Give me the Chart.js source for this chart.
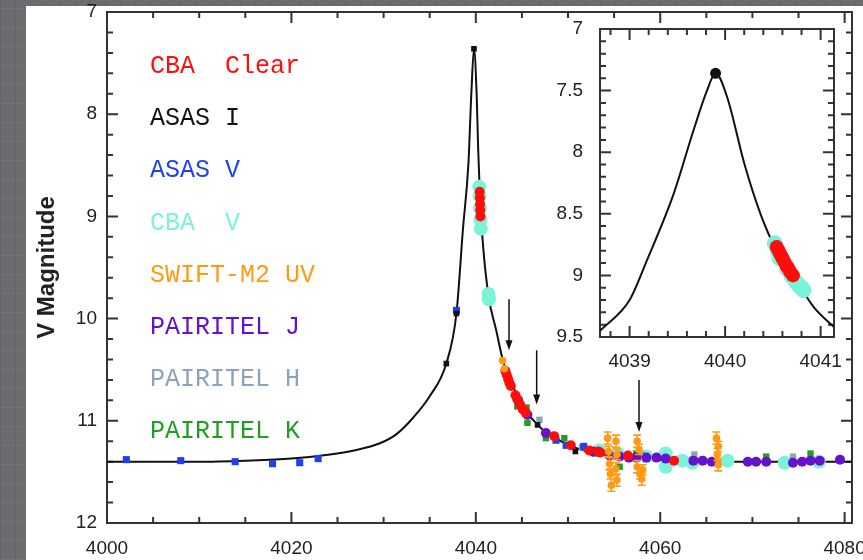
<!DOCTYPE html>
<html>
<head>
<meta charset="utf-8">
<script src="https://cdn.jsdelivr.net/npm/chart.js@4/dist/chart.umd.min.js"></script>
<style>
  html, body { margin: 0; padding: 0; }
  body {
    width: 863px; height: 560px; position: relative; overflow: hidden;
    background-color: #6a6c70;
    background-image:
      repeating-linear-gradient(0deg, rgba(255,255,255,0.06) 0 1px, transparent 1px 19px),
      repeating-linear-gradient(90deg, rgba(0,0,0,0.07) 0 1px, transparent 1px 15px);
  }
  #sheet { position: absolute; left: 26px; top: 6px; right: 0; bottom: 0; background: #fff; }
  #main { position: absolute; left: 0; top: 0; }
  #inset { position: absolute; left: 540px; top: 20px; }
</style>
</head>
<body>
<div id="sheet"></div>
<canvas id="main" width="863" height="560"></canvas>
<canvas id="inset" width="323" height="362"></canvas>
<script>
// ---- light curve data (day, V mag) ----
const curveDays = [4000, 4005, 4010, 4015, 4020, 4024.2, 4026.8, 4029.6, 4031.4, 4033.2, 4035.0, 4036.8, 4037.9, 4038.6, 4039.2, 4039.5, 4039.8, 4040.1, 4040.25, 4040.5, 4040.8, 4041.4, 4042.2, 4043.0, 4043.7, 4044.6, 4045.5, 4046.7, 4048.0, 4049.5, 4051.0, 4053.0, 4055.0, 4058.0, 4062.0, 4070.0, 4080.8];
const curveMag  = [11.40, 11.40, 11.40, 11.39, 11.37, 11.33, 11.29, 11.22, 11.13, 10.97, 10.76, 10.44, 9.95, 9.13, 8.48, 7.83, 7.36, 7.83, 8.32, 8.87, 9.30, 9.79, 10.11, 10.43, 10.58, 10.78, 10.91, 11.04, 11.14, 11.21, 11.27, 11.32, 11.35, 11.37, 11.39, 11.40, 11.40];

const asasIDays = [4036.8, 4037.9, 4039.8, 4046.7, 4050.8];
const asasIMag  = [10.44, 9.95, 7.36, 11.04, 11.30];

const asasVDays = [4002.1, 4008.0, 4013.9, 4017.95, 4020.9, 4022.9, 4037.9, 4048.7, 4049.8, 4051.7];
const asasVMag  = [11.38, 11.39, 11.40, 11.42, 11.41, 11.37, 9.92, 11.19, 11.24, 11.25];

const cbaClearDays = [4040.42, 4040.44, 4040.46, 4040.48, 4040.5, 4043.2, 4043.35, 4043.5, 4043.65, 4043.8, 4044.3, 4044.5, 4044.8, 4045.1, 4045.4, 4048.5, 4050.3, 4052.3, 4053.3, 4053.5, 4056.5, 4061.5];
const cbaClearMag  = [8.76, 8.82, 8.88, 8.94, 9.00, 10.51, 10.55, 10.59, 10.63, 10.66, 10.75, 10.79, 10.84, 10.89, 10.92, 11.15, 11.24, 11.29, 11.30, 11.31, 11.34, 11.39];

const cbaVDays = [4040.38, 4040.42, 4040.46, 4040.5, 4040.54, 4041.38, 4041.42, 4053.4, 4055.4, 4058.5, 4060.6, 4060.6, 4062.4, 4063.5, 4067.3, 4073.5, 4077.2];
const cbaVMag  = [8.71, 8.80, 8.92, 9.03, 9.12, 9.76, 9.81, 11.29, 11.32, 11.35, 11.32, 11.45, 11.39, 11.41, 11.39, 11.41, 11.40];

const swiftDays = [4042.9, 4043.1, 4054.3, 4054.4, 4054.5, 4054.6, 4054.7, 4055.2, 4055.3, 4055.2, 4055.3, 4057.5, 4057.7, 4057.5, 4057.8, 4058.0, 4058.1, 4066.1, 4066.3, 4066.2, 4066.3];
const swiftMag  = [10.41, 10.49, 11.17, 11.30, 11.42, 11.52, 11.63, 11.20, 11.33, 11.47, 11.58, 11.20, 11.28, 11.45, 11.52, 11.57, 11.48, 11.17, 11.25, 11.33, 11.43];
const swiftErr  = [0, 0, 0.06, 0.05, 0.06, 0.05, 0.06, 0.06, 0.05, 0.06, 0.06, 0.06, 0.05, 0.06, 0.05, 0.06, 0.05, 0.06, 0.05, 0.06, 0.06];

const pairJDays = [4044.6, 4045.6, 4047.6, 4052.7, 4054.5, 4055.6, 4056.6, 4057.4, 4058.5, 4059.6, 4060.6, 4063.6, 4064.6, 4065.6, 4069.5, 4070.4, 4071.5, 4074.4, 4075.4, 4076.3, 4077.3, 4079.5];
const pairJMag  = [10.80, 10.94, 11.12, 11.30, 11.34, 11.35, 11.36, 11.36, 11.36, 11.36, 11.37, 11.39, 11.39, 11.40, 11.40, 11.40, 11.40, 11.41, 11.40, 11.39, 11.39, 11.38];

const pairHDays = [4046.9, 4051.5, 4058.0, 4063.7, 4074.4];
const pairHMag  = [10.99, 11.26, 11.33, 11.33, 11.35];

const pairKDays = [4044.5, 4045.5, 4045.6, 4047.6, 4049.6, 4052.9, 4055.6, 4057.4, 4071.5, 4076.3];
const pairKMag  = [10.86, 10.87, 11.02, 11.17, 11.17, 11.32, 11.45, 11.32, 11.35, 11.32];

// arrows marking the spectra epochs
const arrowDays = [4043.6, 4046.6, 4057.7];
const arrowFrom = [9.81, 10.31, 10.60];
const arrowTo   = [10.31, 10.84, 11.11];

// ---- zoom on the peak ----
const insetDays = [4038.69, 4039.0, 4039.18, 4039.46, 4039.67, 4039.81, 4039.9, 4040.02, 4040.2, 4040.37, 4040.54, 4040.72, 4040.93, 4041.14];
const insetMag  = [9.45, 9.20, 8.88, 8.34, 7.82, 7.50, 7.36, 7.55, 8.09, 8.50, 8.80, 9.01, 9.26, 9.42];
const insetPeakDays = [4039.9];
const insetPeakMag  = [7.36];
const insetClearDays = [4040.54, 4040.56, 4040.58, 4040.60, 4040.62, 4040.64, 4040.66, 4040.68, 4040.71];
const insetClearMag  = [8.77, 8.80, 8.83, 8.86, 8.89, 8.92, 8.94, 8.97, 9.00];
const insetVDays = [4040.52, 4040.55, 4040.57, 4040.6, 4040.65, 4040.7, 4040.74, 4040.77, 4040.8, 4040.82];
const insetVMag  = [8.74, 8.80, 8.86, 8.87, 8.95, 9.01, 9.05, 9.08, 9.10, 9.12];

const legendNames = ['CBA  Clear', 'ASAS I', 'ASAS V', 'CBA  V', 'SWIFT-M2 UV', 'PAIRITEL J', 'PAIRITEL H', 'PAIRITEL K'];

const RED = '#ff0d0d', BLACK = '#111111', BLUE = '#1f3ff2', CYAN = '#7af3d9',
      ORANGE = '#ff9a14', PURPLE = '#6612cc', HGRAY = '#8da2bc', GREEN = '#1f9f22';
const legendColors = [RED, BLACK, BLUE, CYAN, ORANGE, PURPLE, HGRAY, GREEN];

const SANS = "'Liberation Sans', Arial, Helvetica, sans-serif";
const TICK_FONT = { family: SANS, size: 19 };

const zip = (xs, ys) => xs.map((x, i) => ({ x: x, y: ys[i] }));
const near = (v, step) => Math.abs(v / step - Math.round(v / step)) < 1e-6;

function pts(label, xs, ys, color, style, r) {
  return { label, data: zip(xs, ys), pointStyle: style, pointRadius: r,
           backgroundColor: color, borderColor: color, pointBorderWidth: 0 };
}

function curve(xs, ys) {
  return { type: 'line', data: zip(xs, ys), borderColor: BLACK, borderWidth: 2,
           pointRadius: 0, cubicInterpolationMode: 'monotone', fill: false };
}

// frame plus inward ticks on all four sides
const boxTicks = {
  id: 'boxTicks',
  beforeDatasetsDraw(chart, args, opts) {
    const { ctx, chartArea: a, scales: { x, y } } = chart;
    ctx.save();
    ctx.strokeStyle = '#333';
    ctx.lineWidth = 2;
    ctx.beginPath();
    x.ticks.forEach(t => {
      const px = x.getPixelForValue(t.value);
      const len = near(t.value, opts.xMajor) ? 11 : 6;
      ctx.moveTo(px, a.bottom); ctx.lineTo(px, a.bottom - len);
      ctx.moveTo(px, a.top); ctx.lineTo(px, a.top + len);
    });
    y.ticks.forEach(t => {
      const py = y.getPixelForValue(t.value);
      const len = near(t.value, opts.yMajor) ? 11 : 6;
      ctx.moveTo(a.left, py); ctx.lineTo(a.left + len, py);
      ctx.moveTo(a.right, py); ctx.lineTo(a.right - len, py);
    });
    ctx.stroke();
    ctx.strokeRect(a.left, a.top, a.right - a.left, a.bottom - a.top);
    ctx.restore();
  }
};

const swiftBars = {
  id: 'swiftBars',
  afterDatasetsDraw(chart) {
    const { ctx, scales: { x, y } } = chart;
    ctx.save();
    ctx.strokeStyle = ORANGE;
    ctx.lineWidth = 1.6;
    ctx.beginPath();
    swiftDays.forEach((d, i) => {
      const e = swiftErr[i];
      if (!e) return;
      const px = x.getPixelForValue(d);
      const top = y.getPixelForValue(swiftMag[i] - e);
      const bot = y.getPixelForValue(swiftMag[i] + e);
      ctx.moveTo(px, top); ctx.lineTo(px, bot);
      ctx.moveTo(px - 4, top); ctx.lineTo(px + 4, top);
      ctx.moveTo(px - 4, bot); ctx.lineTo(px + 4, bot);
    });
    ctx.stroke();
    ctx.restore();
  }
};

const arrows = {
  id: 'arrows',
  afterDatasetsDraw(chart) {
    const { ctx, scales: { x, y } } = chart;
    ctx.save();
    ctx.strokeStyle = BLACK;
    ctx.fillStyle = BLACK;
    ctx.lineWidth = 1.5;
    arrowDays.forEach((d, i) => {
      const px = x.getPixelForValue(d);
      const y0 = y.getPixelForValue(arrowFrom[i]);
      const y1 = y.getPixelForValue(arrowTo[i]);
      ctx.beginPath();
      ctx.moveTo(px, y0); ctx.lineTo(px, y1 - 6);
      ctx.stroke();
      ctx.beginPath();
      ctx.moveTo(px - 3.5, y1 - 10); ctx.lineTo(px, y1); ctx.lineTo(px + 3.5, y1 - 10);
      ctx.closePath();
      ctx.fill();
    });
    ctx.restore();
  }
};

const legendText = {
  id: 'legendText',
  afterDraw(chart) {
    const { ctx, chartArea: a } = chart;
    ctx.save();
    ctx.font = "25px 'Liberation Mono', 'Courier New', monospace";
    ctx.textBaseline = 'alphabetic';
    legendNames.forEach((name, i) => {
      ctx.fillStyle = legendColors[i];
      ctx.fillText(name, a.left + 43, a.top + 61 + i * 52.2);
    });
    ctx.restore();
  }
};

function xAxis(min, max, step, major, pad, height) {
  return {
    type: 'linear', min, max,
    grid: { display: false, drawTicks: false }, border: { display: false },
    ticks: { stepSize: step, includeBounds: false, autoSkip: false, maxRotation: 0, minRotation: 0,
             maxTicksLimit: 200, padding: pad, font: TICK_FONT, color: '#222',
             callback: v => near(v, major) ? String(Math.round(v)) : '' },
    afterFit: s => { s.height = height; s.paddingLeft = 0; s.paddingRight = 0; }
  };
}

function yAxis(min, max, step, major, pad, width, fmt) {
  return {
    type: 'linear', reverse: true, min, max,
    grid: { display: false, drawTicks: false }, border: { display: false },
    ticks: { stepSize: step, autoSkip: false, maxTicksLimit: 200, padding: pad, font: TICK_FONT, color: '#222',
             callback: v => near(v, major) ? fmt(v) : '' },
    afterFit: s => { s.width = width; s.paddingTop = 0; s.paddingBottom = 0; }
  };
}

const baseOpts = {
  responsive: false, animation: false, events: [],
  plugins: { legend: { display: false }, tooltip: { enabled: false } }
};

const mainY = yAxis(7, 12, 0.2, 1, 10, 107, v => String(Math.round(v)));
mainY.title = { display: true, text: 'V Magnitude', color: '#222',
                font: { family: SANS, size: 24, weight: 'bold' }, padding: { top: 33, bottom: 0 } };

new Chart(document.getElementById('main'), {
  type: 'scatter',
  data: {
    datasets: [
      pts('ASAS I', asasIDays, asasIMag, BLACK, 'rect', 4),
      pts('SWIFT-M2 UV', swiftDays, swiftMag, ORANGE, 'circle', 3.8),
      pts('CBA Clear', cbaClearDays, cbaClearMag, RED, 'circle', 5),
      pts('PAIRITEL J', pairJDays, pairJMag, PURPLE, 'circle', 5),
      pts('ASAS V', asasVDays, asasVMag, BLUE, 'rect', 5),
      pts('PAIRITEL K', pairKDays, pairKMag, GREEN, 'rect', 4.5),
      pts('PAIRITEL H', pairHDays, pairHMag, HGRAY, 'rect', 4.5),
      pts('CBA V', cbaVDays, cbaVMag, CYAN, 'circle', 7),
      curve(curveDays, curveMag)
    ]
  },
  options: Object.assign({}, baseOpts, {
    layout: { padding: { top: 12, right: 11, left: 0, bottom: 0 } },
    plugins: Object.assign({}, baseOpts.plugins, { boxTicks: { xMajor: 20, yMajor: 1 } }),
    scales: { x: xAxis(4000, 4080.8, 5, 20, 14, 37), y: mainY }
  }),
  plugins: [boxTicks, swiftBars, arrows, legendText]
});

new Chart(document.getElementById('inset'), {
  type: 'scatter',
  data: {
    datasets: [
      pts('ASAS I', insetPeakDays, insetPeakMag, BLACK, 'circle', 5.5),
      pts('CBA Clear', insetClearDays, insetClearMag, RED, 'circle', 7),
      pts('CBA V', insetVDays, insetVMag, CYAN, 'circle', 8),
      curve(insetDays, insetMag)
    ]
  },
  options: Object.assign({}, baseOpts, {
    layout: { padding: { top: 9, right: 29, left: 0, bottom: 0 } },
    plugins: Object.assign({}, baseOpts.plugins, { boxTicks: { xMajor: 1, yMajor: 0.5 } }),
    scales: {
      x: xAxis(4038.69, 4041.14, 0.2, 1, 13, 45),
      y: yAxis(7, 9.5, 0.1, 0.5, 17, 60, v => String(Math.round(v * 10) / 10))
    }
  }),
  plugins: [boxTicks]
});
</script>
</body>
</html>
